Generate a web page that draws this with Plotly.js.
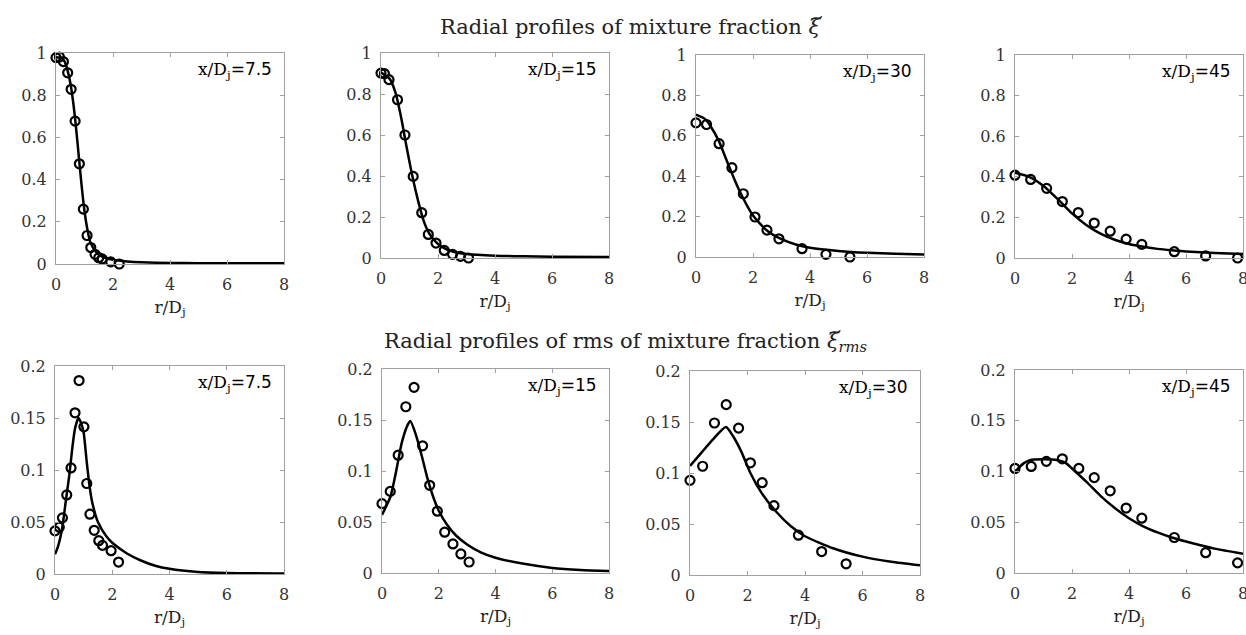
<!DOCTYPE html>
<html>
<head>
<meta charset="utf-8">
<script src="https://cdn.plot.ly/plotly-3.0.1.min.js"></script>
<style>html,body{margin:0;padding:0;background:#fff}#chart{width:1246px;height:635px}</style>
</head>
<body>
<div id="chart"></div>
<script>
// ---------- data: mean mixture fraction ----------
const stations = ["7.5", "15", "30", "45"];

const meanExpR_75 = [0, 0.12, 0.26, 0.41, 0.53, 0.67, 0.82, 0.96, 1.09, 1.22, 1.37, 1.50, 1.62, 1.92, 2.22];
const meanExpY_75 = [0.978, 0.981, 0.959, 0.906, 0.828, 0.677, 0.475, 0.260, 0.135, 0.078, 0.046, 0.030, 0.024, 0.010, 0.0];
const meanSimR_75 = [0, 0.2, 0.3, 0.4, 0.5, 0.6, 0.7, 0.8, 0.9, 1.0, 1.1, 1.2, 1.4, 1.6, 2.0, 2.5, 3, 4, 5, 6, 8];
const meanSimY_75 = [0.98, 0.975, 0.96, 0.92, 0.86, 0.77, 0.65, 0.51, 0.37, 0.25, 0.165, 0.105, 0.058, 0.036, 0.02, 0.012, 0.008, 0.005, 0.004, 0.003, 0.003];

const meanExpR_15 = [0, 0.12, 0.28, 0.58, 0.84, 1.13, 1.43, 1.66, 1.93, 2.22, 2.51, 2.79, 3.07];
const meanExpY_15 = [0.902, 0.899, 0.87, 0.772, 0.60, 0.398, 0.221, 0.115, 0.073, 0.037, 0.018, 0.008, 0.0];
const meanSimR_15 = [0, 0.3, 0.5, 0.7, 0.9, 1.1, 1.3, 1.5, 1.7, 2.0, 2.3, 2.6, 3, 4, 5, 6, 8];
const meanSimY_15 = [0.905, 0.875, 0.81, 0.69, 0.54, 0.40, 0.28, 0.18, 0.118, 0.068, 0.042, 0.028, 0.019, 0.011, 0.008, 0.006, 0.005];

const meanExpR_30 = [0, 0.37, 0.81, 1.26, 1.66, 2.07, 2.49, 2.91, 3.72, 4.56, 5.40];
const meanExpY_30 = [0.664, 0.656, 0.561, 0.442, 0.313, 0.198, 0.133, 0.090, 0.041, 0.013, 0.0];
const meanSimR_30 = [0, 0.3, 0.5, 0.8, 1.0, 1.2, 1.5, 2.0, 2.5, 3.0, 3.5, 4, 5, 6, 7, 8];
const meanSimY_30 = [0.705, 0.685, 0.65, 0.575, 0.505, 0.435, 0.335, 0.205, 0.13, 0.088, 0.062, 0.046, 0.03, 0.021, 0.016, 0.012];

const meanExpR_45 = [0, 0.55, 1.11, 1.66, 2.22, 2.78, 3.34, 3.90, 4.45, 5.59, 6.69, 7.81];
const meanExpY_45 = [0.408, 0.387, 0.343, 0.278, 0.224, 0.172, 0.132, 0.093, 0.067, 0.031, 0.010, 0.0];
const meanSimR_45 = [0, 0.5, 1.0, 1.5, 2.0, 2.5, 3.0, 3.5, 4.0, 4.5, 5.0, 5.5, 6, 7, 8];
const meanSimY_45 = [0.42, 0.40, 0.355, 0.29, 0.22, 0.163, 0.12, 0.09, 0.069, 0.055, 0.045, 0.038, 0.032, 0.025, 0.02];

// ---------- data: rms of mixture fraction ----------
const rmsExpR_75 = [0, 0.15, 0.26, 0.41, 0.56, 0.70, 0.84, 1.01, 1.11, 1.22, 1.37, 1.53, 1.66, 1.96, 2.22];
const rmsExpY_75 = [0.0415, 0.045, 0.054, 0.076, 0.102, 0.155, 0.186, 0.1415, 0.087, 0.0575, 0.042, 0.032, 0.0275, 0.0224, 0.0115];
const rmsSimR_75 = [0, 0.1, 0.25, 0.4, 0.5, 0.6, 0.7, 0.82, 0.9, 1.0, 1.1, 1.2, 1.3, 1.5, 1.8, 2.0, 2.5, 3, 3.5, 4, 5, 6, 8];
const rmsSimY_75 = [0.019, 0.026, 0.044, 0.075, 0.095, 0.12, 0.14, 0.15, 0.146, 0.136, 0.11, 0.086, 0.069, 0.05, 0.036, 0.03, 0.02, 0.013, 0.008, 0.005, 0.002, 0.001, 0.0005];

const rmsExpR_15 = [0, 0.29, 0.57, 0.84, 1.13, 1.43, 1.68, 1.95, 2.21, 2.50, 2.78, 3.07];
const rmsExpY_15 = [0.068, 0.080, 0.1155, 0.163, 0.182, 0.1247, 0.086, 0.0606, 0.040, 0.0285, 0.0187, 0.0108];
const rmsSimR_15 = [0, 0.3, 0.5, 0.7, 0.9, 1.0, 1.2, 1.4, 1.6, 1.8, 2.0, 2.3, 2.6, 3, 3.5, 4, 5, 6, 7, 8];
const rmsSimY_15 = [0.057, 0.075, 0.1, 0.128, 0.145, 0.149, 0.135, 0.115, 0.093, 0.075, 0.061, 0.047, 0.037, 0.028, 0.02, 0.015, 0.009, 0.005, 0.003, 0.002];

const rmsExpR_30 = [0, 0.44, 0.85, 1.26, 1.69, 2.10, 2.51, 2.92, 3.77, 4.58, 5.43];
const rmsExpY_30 = [0.0928, 0.1066, 0.149, 0.167, 0.144, 0.110, 0.0905, 0.068, 0.039, 0.023, 0.011];
const rmsSimR_30 = [0, 0.4, 0.8, 1.25, 1.5, 1.8, 2.1, 2.5, 3.0, 3.5, 4, 5, 6, 7, 8];
const rmsSimY_30 = [0.107, 0.12, 0.133, 0.145, 0.136, 0.12, 0.1, 0.08, 0.062, 0.048, 0.038, 0.026, 0.018, 0.013, 0.0095];

const rmsExpR_45 = [0, 0.57, 1.10, 1.66, 2.24, 2.78, 3.34, 3.90, 4.45, 5.59, 6.69, 7.81];
const rmsExpY_45 = [0.103, 0.105, 0.110, 0.1125, 0.103, 0.094, 0.081, 0.064, 0.054, 0.035, 0.020, 0.010];
const rmsSimR_45 = [0, 0.3, 0.5, 1.0, 1.5, 1.8, 2.0, 2.5, 3, 3.5, 4, 4.5, 5, 5.5, 6, 7, 8];
const rmsSimY_45 = [0.10, 0.108, 0.111, 0.112, 0.111, 0.108, 0.103, 0.09, 0.076, 0.064, 0.054, 0.046, 0.04, 0.035, 0.031, 0.024, 0.019];

const xTicks = [0, 2, 4, 6, 8];
const meanYTicks = [0, 0.2, 0.4, 0.6, 0.8, 1];
const rmsYTicks = [0, 0.05, 0.1, 0.15, 0.2];

const titleTop = "Radial profiles of mixture fraction <i>ξ</i>";
const titleBottom = "Radial profiles of rms of mixture fraction <i>ξ</i><sub><i>rms</i></sub>";
const xLabel = "r/D<sub>j</sub>";

// ---------- layout geometry (pixels) ----------
const W = 1246, H = 635;
const boxes = [
  [56, 284, 53, 264], [381, 609, 53, 258], [696, 924, 55, 257], [1015, 1243, 55, 258],
  [55, 284, 366, 574], [382, 609, 369, 573], [690, 920, 371, 575], [1015, 1243, 370, 573]
];

const panels = [
  [meanExpR_75, meanExpY_75, meanSimR_75, meanSimY_75],
  [meanExpR_15, meanExpY_15, meanSimR_15, meanSimY_15],
  [meanExpR_30, meanExpY_30, meanSimR_30, meanSimY_30],
  [meanExpR_45, meanExpY_45, meanSimR_45, meanSimY_45],
  [rmsExpR_75, rmsExpY_75, rmsSimR_75, rmsSimY_75],
  [rmsExpR_15, rmsExpY_15, rmsSimR_15, rmsSimY_15],
  [rmsExpR_30, rmsExpY_30, rmsSimR_30, rmsSimY_30],
  [rmsExpR_45, rmsExpY_45, rmsSimR_45, rmsSimY_45]
];

const serif = "DejaVu Serif";
const sans = "DejaVu Sans";
const traces = [];
const layout = {
  width: W, height: H,
  margin: {l: 0, r: 0, t: 0, b: 0},
  paper_bgcolor: "#fff", plot_bgcolor: "#fff",
  showlegend: false,
  font: {family: serif, color: "#000", size: 16},
  annotations: [],
  shapes: []
};

panels.forEach((p, i) => {
  const n = i + 1;
  const xa = n === 1 ? "x" : "x" + n;
  const ya = n === 1 ? "y" : "y" + n;
  const b = boxes[i];
  const isRms = i >= 4;
  traces.push({x: p[2], y: p[3], xaxis: xa, yaxis: ya, type: "scatter", mode: "lines",
    line: {color: "#000", width: 2.5, shape: "spline", smoothing: 0.6}, cliponaxis: true});
  traces.push({x: p[0], y: p[1], xaxis: xa, yaxis: ya, type: "scatter", mode: "markers",
    marker: {symbol: "circle-open", size: 9, color: "#000", line: {width: 2.2, color: "#000"}},
    cliponaxis: false});
  const common = () => ({
    showgrid: false, zeroline: false, showline: true, linecolor: "#a0a0a0", linewidth: 1,
    mirror: "ticks", ticks: "inside", ticklen: 4, tickcolor: "#a0a0a0",
    ticklabeloverflow: "allow",
    tickfont: {family: serif, size: 16, color: "#333"}
  });
  layout["xaxis" + (n === 1 ? "" : n)] = Object.assign(common(), {
    domain: [b[0] / W, b[1] / W], anchor: ya, range: [0, 8],
    tickvals: xTicks, ticktext: xTicks.map(String), ticklabelstandoff: 6,
    title: {text: xLabel, font: {family: serif, size: 17, color: "#222"}, standoff: 7}
  });
  layout["yaxis" + (n === 1 ? "" : n)] = Object.assign(common(), {
    domain: [1 - b[3] / H, 1 - b[2] / H], anchor: xa,
    range: isRms ? [0, 0.2] : [0, 1], ticklabelstandoff: 5,
    tickvals: isRms ? rmsYTicks : meanYTicks,
    ticktext: (isRms ? rmsYTicks : meanYTicks).map(String)
  });
  layout.annotations.push({
    xref: xa + " domain", yref: ya + " domain", x: 0.955, y: 0.915, xanchor: "right", yanchor: "middle",
    text: "x/D<sub>j</sub><span style=\"font-family:'" + sans + "'\">=" + stations[i % 4] + "</span>",
    showarrow: false,
    font: {family: serif, size: 17, color: "#000"}
  });
});

layout.annotations.push({xref: "paper", yref: "paper", x: 630 / W, y: 1 - 27 / H, xanchor: "center", yanchor: "middle",
  text: titleTop, showarrow: false, font: {family: serif, size: 21, color: "#222"}});
layout.annotations.push({xref: "paper", yref: "paper", x: 625 / W, y: 1 - 342 / H, xanchor: "center", yanchor: "middle",
  text: titleBottom, showarrow: false, font: {family: serif, size: 21, color: "#222"}});

Plotly.newPlot("chart", traces, layout, {staticPlot: true, displayModeBar: false}).then(gd => {
  // place a tilde accent above each italic xi in the two titles
  try {
    const root = gd.getBoundingClientRect();
    const shapes = [];
    gd.querySelectorAll(".annotation-text tspan").forEach(ts => {
      if (ts.textContent === "ξ") {
        const r = ts.getBoundingClientRect();
        const cx = r.left - root.left + r.width / 2 + 2;
        const cy = r.top - root.top + 3;
        const hw = 5, hh = 1.6;
        const X = v => v / W, Y = v => 1 - v / H;
        const path = "M " + X(cx - hw) + "," + Y(cy + hh) +
          " C " + X(cx - hw / 2) + "," + Y(cy - 2 * hh) + " " + X(cx + hw / 2) + "," + Y(cy + 2 * hh) +
          " " + X(cx + hw) + "," + Y(cy - hh);
        shapes.push({type: "path", xref: "paper", yref: "paper", path: path,
          line: {color: "#222", width: 1.3}});
      }
    });
    if (shapes.length) Plotly.relayout(gd, {shapes: shapes});
  } catch (e) {}
});
</script>
</body>
</html>
